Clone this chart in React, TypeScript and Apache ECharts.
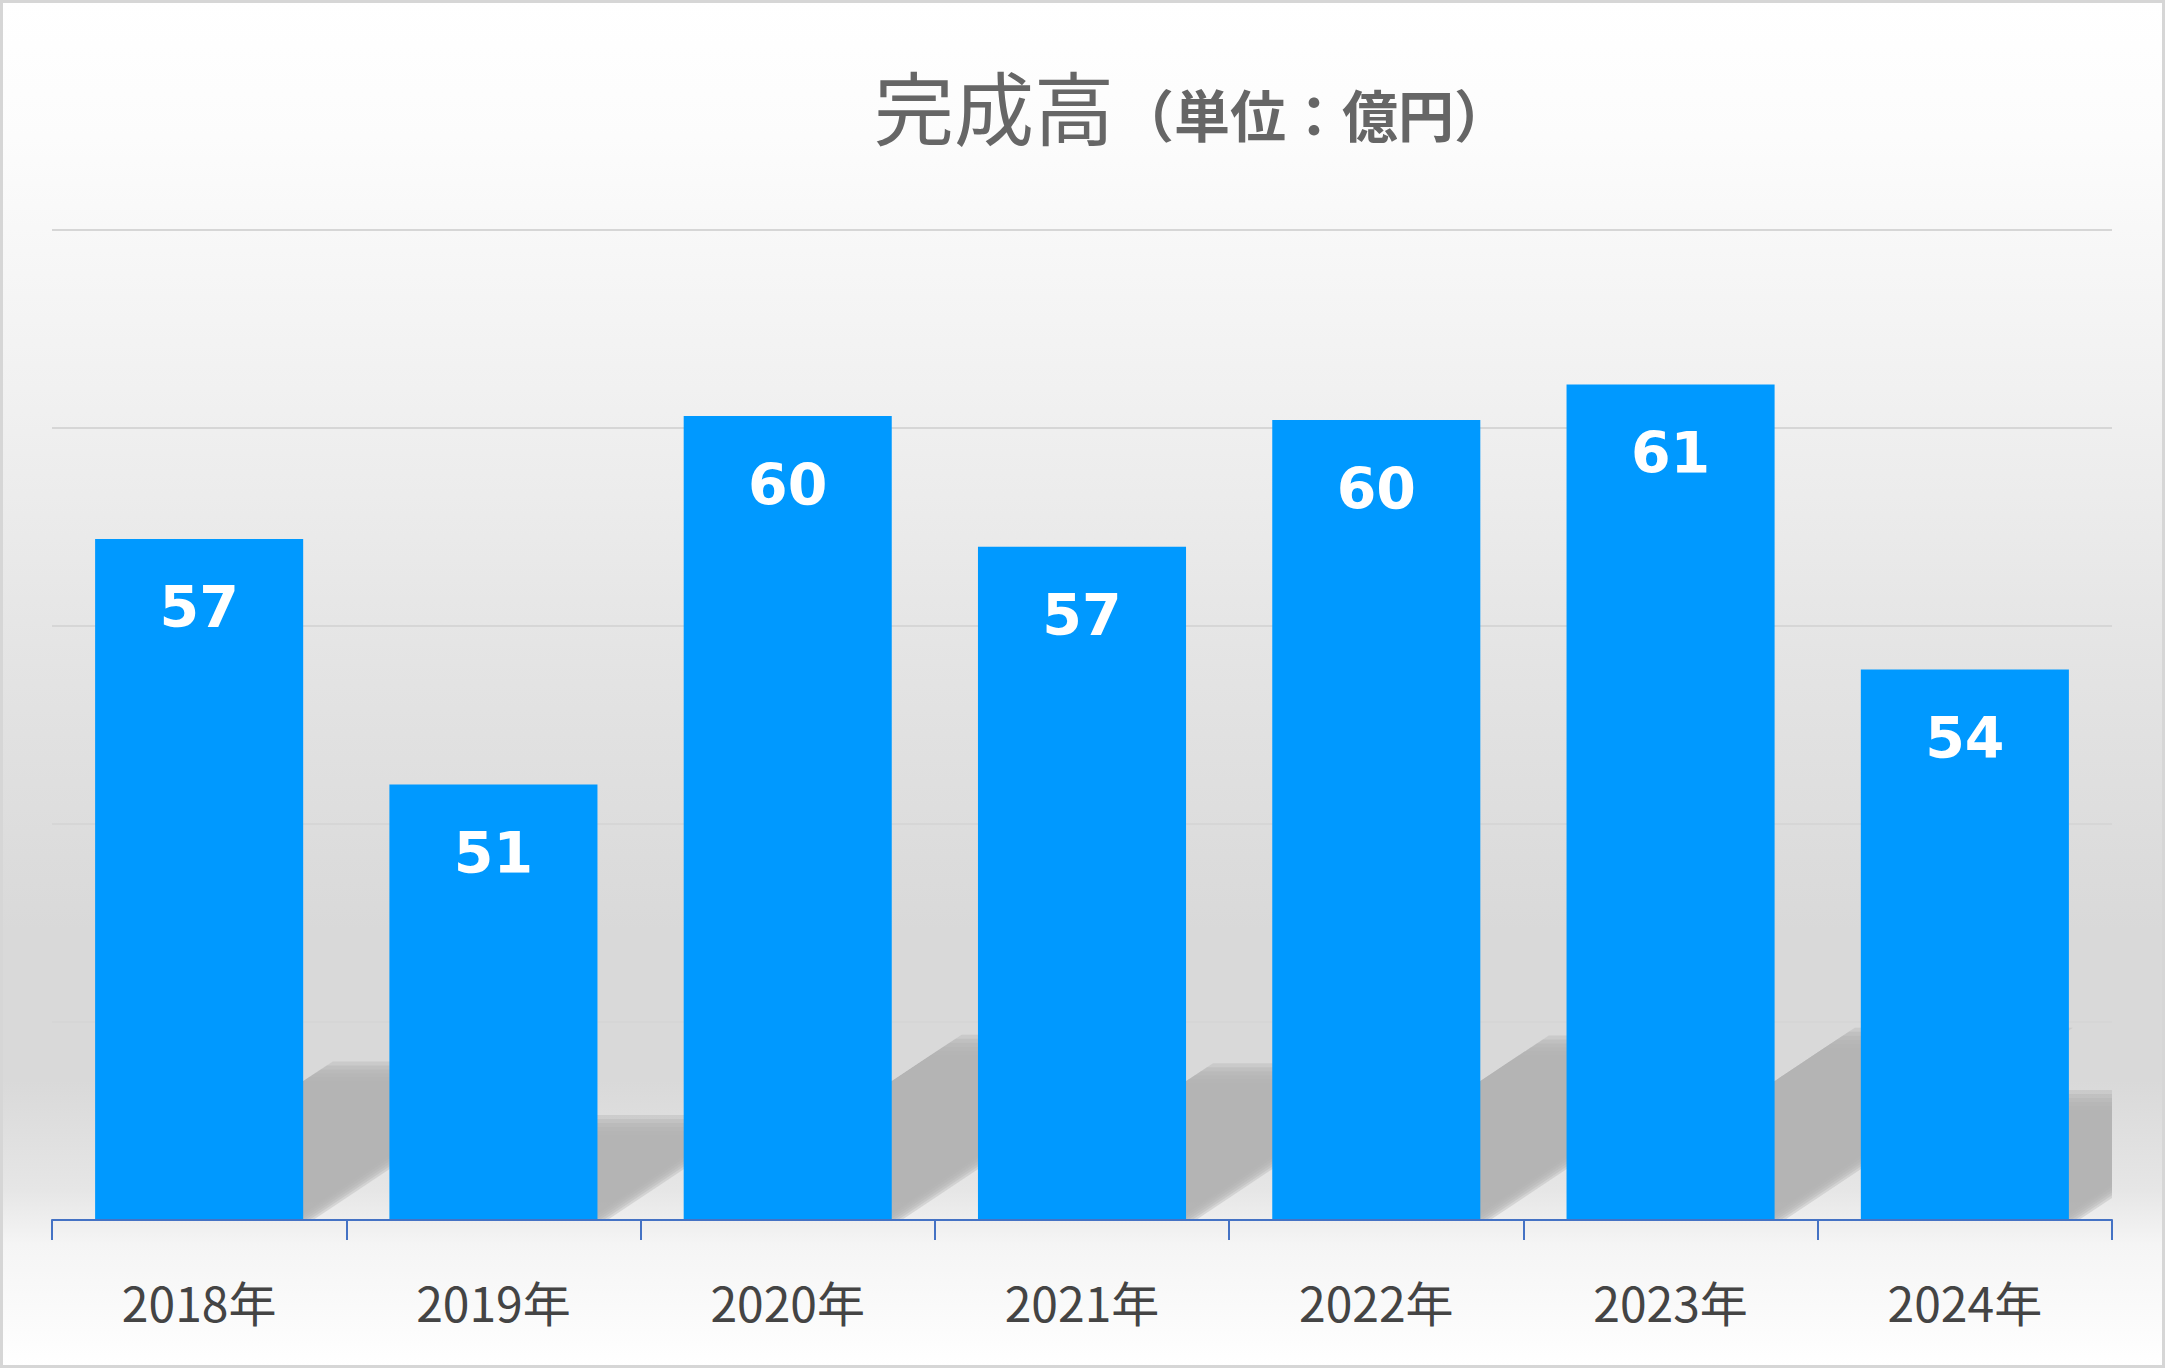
import React, { useEffect, useRef } from "react";
import * as echarts from "echarts";

const categories = ["2018年", "2019年", "2020年", "2021年", "2022年", "2023年", "2024年"];
const values = [57.2, 51.0, 60.3, 57.0, 60.2, 61.1, 53.9];
const Y_MIN = 40;
const Y_MAX = 65;
const Y_STEP = 5;
const TITLE_MAIN = "完成高";
const TITLE_UNIT = "（単位：億円）";

const W = 2165;
const H = 1368;
const BAR_RATIO = 0.707;
const SHADOW_SCALE = 0.218;
const SHADOW_SKEW = 1.5;
const SHADOW_LAYERS = 6;
const SHADOW_STEP = 4;
const CJK = '"Noto Sans CJK JP", "Noto Sans", sans-serif';

export default function App() {
  const ref = useRef<HTMLDivElement>(null);

  useEffect(() => {
    document.body.style.margin = "0";
    if (!ref.current) return;
    const chart = echarts.init(ref.current, undefined, { renderer: "svg" });

    const option: any = {
      animation: false,
      graphic: [
        {
          type: "rect",
          z: -100,
          silent: true,
          shape: { x: 0, y: 0, width: W, height: H },
          style: {
            fill: new echarts.graphic.LinearGradient(0, 0, 0, 1, [
              { offset: 0, color: "#ffffff" },
              { offset: 0.1, color: "#fcfcfc" },
              { offset: 0.3, color: "#f0f0f0" },
              { offset: 0.5, color: "#e3e3e3" },
              { offset: 0.68, color: "#d9d9d9" },
              { offset: 0.79, color: "#d9d9d9" },
              { offset: 0.87, color: "#e6e6e6" },
              { offset: 0.91, color: "#f5f5f5" },
              { offset: 1, color: "#ffffff" },
            ]),
          },
        },
        {
          type: "rect",
          z: 100,
          silent: true,
          shape: { x: 1.5, y: 1.5, width: W - 3, height: H - 3 },
          style: { fill: "none", stroke: "#d6d6d6", lineWidth: 3 },
        },
        {
          type: "text",
          z: 100,
          x: 874,
          y: 104,
          style: {
            text: TITLE_MAIN,
            fontSize: 80,
            fontFamily: CJK,
            fill: "#666666",
            verticalAlign: "middle",
            align: "left",
          },
        },
        {
          type: "text",
          z: 100,
          x: 1118,
          y: 112,
          style: {
            text: TITLE_UNIT,
            fontSize: 56,
            fontWeight: "bold",
            fontFamily: CJK,
            fill: "#666666",
            verticalAlign: "middle",
            align: "left",
          },
        },
      ],
      grid: { left: 52, right: 53, top: 230, bottom: 148, containLabel: false },
      xAxis: {
        type: "category",
        data: categories,
        axisLine: { show: true, lineStyle: { color: "#4472C4", width: 2 } },
        axisTick: { show: true, length: 20, lineStyle: { color: "#4472C4", width: 2 } },
        axisLabel: {
          margin: 57,
          fontSize: 48,
          fontFamily: CJK,
          color: "#444444",
        },
        z: 5,
      },
      yAxis: {
        type: "value",
        min: Y_MIN,
        max: Y_MAX,
        interval: Y_STEP,
        axisLine: { show: false },
        axisTick: { show: false },
        axisLabel: { show: false },
        splitLine: { show: true, lineStyle: { color: "#d6d6d6", width: 2 } },
      },
      series: [
        {
          type: "custom",
          z: 1,
          clip: true,
          silent: true,
          data: categories.map((_, i) => [i, values[i]]),
          renderItem: (params: any, api: any) => {
            const i = api.value(0);
            const v = api.value(1);
            const top = api.coord([i, v]);
            const base = api.coord([i, Y_MIN]);
            const bw = api.size([1, 0])[0] * BAR_RATIO;
            const h = base[1] - top[1];
            const sh = h * SHADOW_SCALE;
            const xl = top[0] - bw / 2;
            const xr = top[0] + bw / 2;
            const yb = base[1];
            const children: any[] = [];
            for (let j = 0; j < SHADOW_LAYERS; j++) {
              const e = (j - (SHADOW_LAYERS - 1) / 2) * SHADOW_STEP;
              const t = sh + e;
              const ddx = t * SHADOW_SKEW;
              children.push({
                type: "polygon",
                shape: {
                  points: [
                    [xl, yb + 20],
                    [xr + e, yb + 20],
                    [xr + e, yb],
                    [xr + e + ddx, yb - t],
                    [xl + ddx, yb - t],
                    [xl, yb],
                  ],
                },
                style: { fill: "rgba(178,178,178,0.39)" },
              });
            }
            return { type: "group", children };
          },
        },
        {
          type: "bar",
          z: 3,
          data: values,
          barWidth: (BAR_RATIO * 100).toFixed(1) + "%",
          itemStyle: { color: "#0099FF" },
          label: {
            show: true,
            position: "insideTop",
            distance: 40,
            formatter: (p: any) => String(Math.round(p.value)),
            color: "#ffffff",
            fontSize: 57,
            fontWeight: "bold",
            fontFamily: '"DejaVu Sans", sans-serif',
          },
        },
      ],
    };

    chart.setOption(option);
    return () => chart.dispose();
  }, []);

  return <div ref={ref} style={{ width: W, height: H }} />;
}
